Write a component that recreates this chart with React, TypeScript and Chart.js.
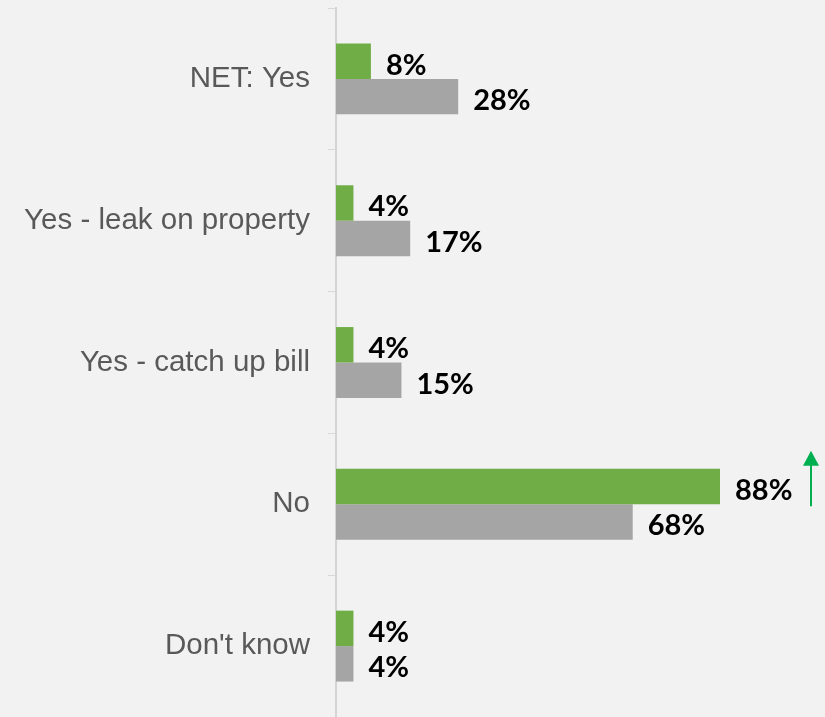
import React, { useEffect, useRef } from "react";
import { Chart, registerables } from "chart.js";

Chart.register(...registerables);

const categories = ["NET: Yes", "Yes - leak on property", "Yes - catch up bill", "No", "Don't know"];
const greenValues = [8, 4, 4, 88, 4];
const grayValues = [28, 17, 15, 68, 4];
const greenLabels = ["8%", "4%", "4%", "88%", "4%"];
const grayLabels = ["28%", "17%", "15%", "68%", "4%"];
const upArrowCategory = "No";

const valueLabelPlugin = {
  id: "valueLabels",
  afterDatasetsDraw(chart: any) {
    const ctx = chart.ctx;
    ctx.save();
    ctx.font = "bold 29px Lato, 'Open Sans', sans-serif";
    ctx.fillStyle = "#000000";
    ctx.textAlign = "left";
    ctx.textBaseline = "middle";
    chart.data.datasets.forEach((ds: any, di: number) => {
      const meta = chart.getDatasetMeta(di);
      meta.data.forEach((bar: any, i: number) => {
        const txt = ds.labelsText[i];
        ctx.fillText(txt, bar.x + 15, bar.y + 4);
      });
    });
    // significance arrow
    const idx = categories.indexOf(upArrowCategory);
    if (idx >= 0) {
      const gBar: any = chart.getDatasetMeta(0).data[idx];
      const x = chart.chartArea.right - 5;
      const bottom = gBar.y + gBar.height / 2 + 2;
      const top = gBar.y - gBar.height / 2 - 18;
      ctx.strokeStyle = "#00b050";
      ctx.fillStyle = "#00b050";
      ctx.lineWidth = 2;
      ctx.beginPath();
      ctx.moveTo(x, bottom);
      ctx.lineTo(x, top + 12);
      ctx.stroke();
      ctx.beginPath();
      ctx.moveTo(x, top);
      ctx.lineTo(x - 8, top + 15);
      ctx.lineTo(x + 8, top + 15);
      ctx.closePath();
      ctx.fill();
    }
    ctx.restore();
  },
};

export default function App() {
  const ref = useRef<HTMLCanvasElement>(null);
  useEffect(() => {
    document.body.style.margin = "0";
    document.body.style.background = "#f2f2f2";
    const chart = new Chart(ref.current!, {
      type: "bar",
      data: {
        labels: categories,
        datasets: [
          {
            label: "Current",
            data: greenValues,
            backgroundColor: "#70ad47",
            labelsText: greenLabels,
            barPercentage: 1,
            categoryPercentage: 0.5,
          } as any,
          {
            label: "Previous",
            data: grayValues,
            backgroundColor: "#a5a5a5",
            labelsText: grayLabels,
            barPercentage: 1,
            categoryPercentage: 0.5,
          } as any,
        ],
      },
      options: {
        indexAxis: "y",
        responsive: false,
        animation: false,
        layout: { padding: { top: 8, right: 9, bottom: 0, left: 0 } },
        plugins: {
          legend: { display: false },
          tooltip: { enabled: false },
        },
        scales: {
          x: {
            display: false,
            min: 0,
            max: 110,
          },
          y: {
            grid: {
              offset: true,
              drawOnChartArea: false,
              drawTicks: true,
              tickLength: 8,
              color: "#d9d9d9",
            },
            border: { display: true, color: "#d4d4d4", width: 2 },
            ticks: {
              color: "#595959",
              padding: 18,
              font: { family: "'Liberation Sans', Arial, sans-serif", size: 29.5 },
            },
            afterFit(scale: any) {
              scale.width = 336;
              scale.paddingTop = 0;
              scale.paddingBottom = 0;
            },
          },
        },
      },
      plugins: [valueLabelPlugin],
    });
    return () => chart.destroy();
  }, []);
  return (
    <div style={{ width: 825, height: 717, background: "#f2f2f2" }}>
      <canvas ref={ref} width={825} height={717} style={{ display: "block" }} />
    </div>
  );
}
